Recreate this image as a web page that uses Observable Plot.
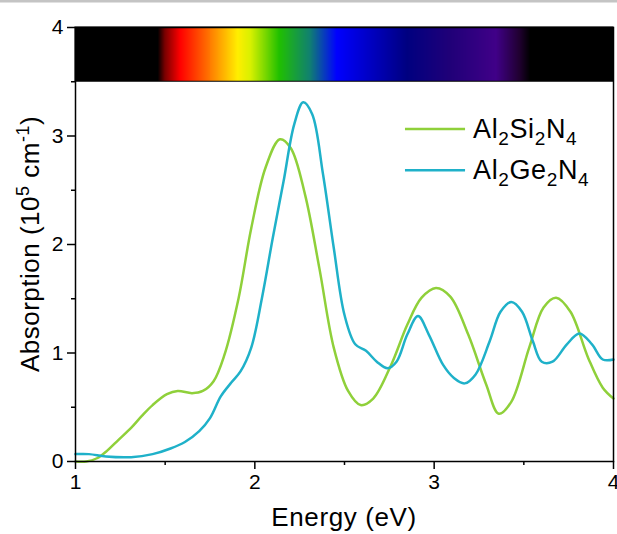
<!DOCTYPE html>
<html>
<head>
<meta charset="utf-8">
<script src="https://cdn.jsdelivr.net/npm/d3@7"></script>
<script src="https://cdn.jsdelivr.net/npm/@observablehq/plot@0.6"></script>
<style>
  html, body { margin: 0; padding: 0; background: #fff; }
  #chart { width: 617px; height: 534px; position: relative; }
</style>
</head>
<body>
<div id="chart"></div>
<script>
// Al2Si2N4 absorption (10^5 cm^-1) vs energy (eV)
const siEnergy = [1.0, 1.06, 1.12, 1.17, 1.24, 1.31, 1.37, 1.43, 1.51, 1.57, 1.65, 1.71, 1.77, 1.83, 1.91, 1.98, 2.06, 2.14, 2.20, 2.28, 2.36, 2.44, 2.52, 2.59, 2.66, 2.76, 2.85, 2.93, 3.01, 3.09, 3.19, 3.29, 3.36, 3.43, 3.53, 3.61, 3.68, 3.76, 3.86, 3.94, 4.0];
const siAbs    = [0.0, 0.0, 0.03, 0.09, 0.20, 0.31, 0.42, 0.52, 0.62, 0.65, 0.63, 0.65, 0.74, 0.98, 1.51, 2.15, 2.71, 2.97, 2.89, 2.46, 1.78, 1.05, 0.65, 0.52, 0.58, 0.89, 1.26, 1.51, 1.60, 1.52, 1.17, 0.71, 0.44, 0.55, 1.05, 1.42, 1.51, 1.38, 0.95, 0.68, 0.58];

// Al2Ge2N4 absorption (10^5 cm^-1) vs energy (eV)
const geEnergy = [1.0, 1.075, 1.17, 1.31, 1.43, 1.53, 1.61, 1.69, 1.75, 1.81, 1.87, 1.92, 1.98, 2.04, 2.10, 2.16, 2.22, 2.27, 2.32, 2.38, 2.44, 2.50, 2.56, 2.62, 2.68, 2.74, 2.79, 2.85, 2.91, 2.97, 3.05, 3.11, 3.17, 3.23, 3.31, 3.37, 3.43, 3.49, 3.55, 3.60, 3.66, 3.74, 3.81, 3.88, 3.94, 4.0];
const geAbs    = [0.068, 0.068, 0.046, 0.04, 0.068, 0.12, 0.18, 0.28, 0.40, 0.60, 0.73, 0.83, 1.05, 1.51, 2.06, 2.58, 3.11, 3.31, 3.20, 2.65, 1.97, 1.35, 1.08, 1.02, 0.92, 0.86, 0.92, 1.17, 1.34, 1.17, 0.89, 0.77, 0.72, 0.80, 1.11, 1.38, 1.47, 1.38, 1.11, 0.92, 0.92, 1.08, 1.18, 1.08, 0.94, 0.94];

// Visible-spectrum colour bar stops (energy in eV -> colour)
const specEnergy = [1.0, 1.46, 1.50, 1.585, 1.74, 1.91, 1.98, 2.14, 2.31, 2.46, 2.85, 3.09, 3.35, 3.48, 3.54, 4.0];
const specColor  = ["#000000", "#000000", "#7a0000", "#ff0000", "#ff7000", "#ffee00", "#d8f000", "#20c000", "#108070", "#0000ff", "#000080", "#200078", "#400088", "#200030", "#000000", "#000000"];
const specBand   = [3.5, 4.0];

// Ticks
const xMajor = [1, 2, 3, 4];
const xMinor = [1.5, 2.5, 3.5];
const yMajor = [0, 1, 2, 3, 4];
const yMinor = [0.5, 1.5, 2.5, 3.5];

const seriesColors = ["#8fd03a", "#1fb1c9"];

const siData = siEnergy.map((e, i) => ({energy: e, abs: siAbs[i]}));
const geData = geEnergy.map((e, i) => ({energy: e, abs: geAbs[i]}));

const specScale = d3.scaleLinear().domain(specEnergy).range(specColor).interpolate(d3.interpolateRgb);
const nStrip = 540;
const strips = d3.range(nStrip).map(i => {
  const a = 1 + 3 * i / nStrip, b = 1 + 3 * (i + 1) / nStrip;
  return {x1: a, x2: Math.min(4, b + 0.002), color: specScale((a + b) / 2)};
});

const font = "'Liberation Sans', Arial, Helvetica, sans-serif";
const fmt = d3.format("d");

const plot = Plot.plot({
  width: 617,
  height: 534,
  marginLeft: 75,
  marginRight: 4,
  marginTop: 27,
  marginBottom: 73,
  style: {fontFamily: font, fontSize: "21px", color: "#000", background: "#fff"},
  x: {domain: [1, 4]},
  y: {domain: [0, 4]},
  color: {type: "identity"},
  marks: [
    Plot.rect(strips, {x1: "x1", x2: "x2", y1: specBand[0], y2: specBand[1], fill: "color", shapeRendering: "crispEdges"}),
    Plot.rect([0], {x1: 1, x2: 4, y1: specBand[0], y2: specBand[1], fill: "none", stroke: "#000", strokeWidth: 1}),
    Plot.line(siData, {x: "energy", y: "abs", stroke: seriesColors[0], strokeWidth: 2.5, curve: "catmull-rom"}),
    Plot.line(geData, {x: "energy", y: "abs", stroke: seriesColors[1], strokeWidth: 2.5, curve: "catmull-rom"}),
    Plot.frame({stroke: "#000", strokeWidth: 1.5}),
    Plot.axisX({ticks: xMajor, tickSize: 8, tickPadding: 5, tickFormat: fmt, label: null, strokeWidth: 1.5, fontSize: 21}),
    Plot.axisX({ticks: xMinor, tickSize: 4, tickFormat: () => "", label: null, strokeWidth: 1.5}),
    Plot.axisY({ticks: yMajor, tickSize: 8, tickPadding: 4, tickFormat: fmt, label: null, strokeWidth: 1.5, fontSize: 21}),
    Plot.axisY({ticks: yMinor, tickSize: 4, tickFormat: () => "", label: null, strokeWidth: 1.5})
  ]
});

document.getElementById("chart").appendChild(plot);

const svg = d3.select(plot);
const sx = plot.scale("x"), sy = plot.scale("y");

// top grey strip (crop border in reference)
svg.append("rect").attr("x", 0).attr("y", 0).attr("width", 617).attr("height", 2.5).attr("fill", "#c4c4c4");

// x axis label
svg.append("text")
  .attr("x", (sx.apply(1) + sx.apply(4)) / 2)
  .attr("y", 526)
  .attr("text-anchor", "middle")
  .attr("font-family", font).attr("font-size", 26).attr("letter-spacing", 0.6).attr("fill", "#000")
  .text("Energy (eV)");

// y axis label with superscripts
const yl = svg.append("text")
  .attr("transform", `translate(39,${(sy.apply(0) + sy.apply(4)) / 2}) rotate(-90)`)
  .attr("text-anchor", "middle")
  .attr("font-family", font).attr("font-size", 26).attr("letter-spacing", 0.5).attr("fill", "#000");
yl.append("tspan").text("Absorption (10");
yl.append("tspan").attr("dy", -10).attr("font-size", 18).text("5");
yl.append("tspan").attr("dy", 10).text(" cm");
yl.append("tspan").attr("dy", -10).attr("font-size", 18).text("-1");
yl.append("tspan").attr("dy", 10).text(")");

// legend
const legendY = [3.06, 2.68];
const legendParts = [["Al", "2", "Si", "2", "N", "4"], ["Al", "2", "Ge", "2", "N", "4"]];
legendY.forEach((ly, i) => {
  const py = sy.apply(ly);
  svg.append("line")
    .attr("x1", sx.apply(2.84)).attr("x2", sx.apply(3.175))
    .attr("y1", py).attr("y2", py)
    .attr("stroke", seriesColors[i]).attr("stroke-width", 2.5);
  const t = svg.append("text")
    .attr("x", sx.apply(3.22)).attr("y", py + 9)
    .attr("text-anchor", "start")
    .attr("font-family", font).attr("font-size", 27).attr("letter-spacing", 0.6).attr("fill", "#000");
  legendParts[i].forEach((p, k) => {
    const sub = k % 2 === 1;
    t.append("tspan")
      .attr("dy", sub ? 7 : (k === 0 ? 0 : -7))
      .attr("font-size", sub ? 19 : 27)
      .text(p);
  });
});
</script>
</body>
</html>
